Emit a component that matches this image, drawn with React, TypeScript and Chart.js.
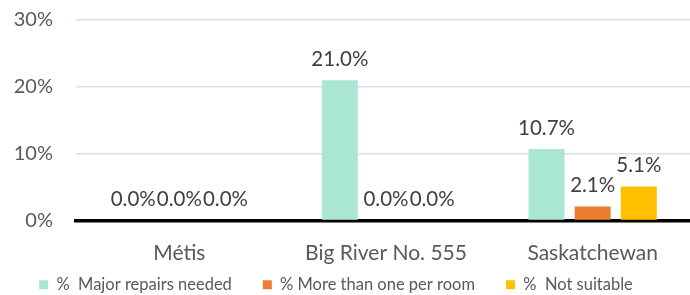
import React, { useEffect, useRef } from "react";
import { Chart, registerables } from "chart.js";

Chart.register(...registerables);

const categories = ["Métis", "Big River No. 555", "Saskatchewan"];
const seriesLabels = ["%  Major repairs needed", "% More than one per room", "%  Not suitable"];
const majorRepairs = [0.0, 21.0, 10.7];
const moreThanOnePerRoom = [0.0, 0.0, 2.1];
const notSuitable = [0.0, 0.0, 5.1];
const seriesColors = ["#A9E6D3", "#ED7D31", "#FFC000"];
const yTicks = [0, 10, 20, 30];

const FONT = "Lato, 'Open Sans', sans-serif";

const dataLabelPlugin = {
  id: "dataLabels",
  afterDatasetsDraw(chart: any) {
    const ctx = chart.ctx;
    ctx.save();
    ctx.font = `20.5px ${FONT}`;
    ctx.fillStyle = "#404040";
    ctx.textAlign = "center";
    ctx.textBaseline = "middle";
    chart.data.datasets.forEach((ds: any, di: number) => {
      const meta = chart.getDatasetMeta(di);
      meta.data.forEach((el: any, i: number) => {
        const v = ds.data[i];
        ctx.fillText(`${v.toFixed(1)}%`, el.x, el.y - 21);
      });
    });
    ctx.restore();
  },
};

const legendShift = {
  id: "legendShift",
  afterLayout(chart: any) {
    const lg = chart.legend;
    if (lg) {
      lg.left -= 12;
      lg.right -= 12;
      lg.top -= 25;
      lg.bottom -= 25;
    }
  },
};

export default function App() {
  const ref = useRef<HTMLCanvasElement | null>(null);
  useEffect(() => {
    if (!ref.current) return;
    const chart = new Chart(ref.current, {
      type: "bar",
      data: {
        labels: categories,
        datasets: [
          { label: seriesLabels[0], data: majorRepairs, backgroundColor: seriesColors[0] },
          { label: seriesLabels[1], data: moreThanOnePerRoom, backgroundColor: seriesColors[1] },
          { label: seriesLabels[2], data: notSuitable, backgroundColor: seriesColors[2] },
        ],
      },
      options: {
        animation: false,
        responsive: true,
        maintainAspectRatio: false,
        layout: { padding: { top: 20, left: 0, right: 0, bottom: -33 } },
        datasets: { bar: { categoryPercentage: 0.67, barPercentage: 0.78 } },
        plugins: {
          legend: {
            display: true,
            position: "bottom",
            labels: {
              boxWidth: 9,
              boxHeight: 9,
              padding: 31,
              color: "#595959",
              font: { family: FONT, size: 16.5 },
            },
          },
          tooltip: { enabled: false },
        },
        scales: {
          x: {
            grid: { display: false, drawTicks: false },
            border: { display: true, color: "#000000", width: 3.5 },
            ticks: { color: "#595959", font: { family: FONT, size: 21 }, padding: 20 },
            afterFit(scale: any) {
              scale.height = 50;
            },
          },
          y: {
            min: 0,
            max: 30,
            afterBuildTicks(scale: any) {
              scale.ticks = yTicks.map((v) => ({ value: v }));
            },
            grid: {
              color: "#D3E1F1",
              lineWidth: 1.5,
              drawTicks: true,
              tickLength: 20,
              tickColor: "rgba(0,0,0,0)",
            },
            border: { display: false },
            ticks: {
              color: "#595959",
              font: { family: FONT, size: 20 },
              padding: 3,
              callback: (v: any) => `${v}%`,
            },
            afterFit(scale: any) {
              scale.width = 76;
            },
          },
        },
      },
      plugins: [dataLabelPlugin, legendShift],
    });
    return () => chart.destroy();
  }, []);
  return (
    <div style={{ position: "fixed", left: 0, top: 0, width: 690, height: 295, overflow: "hidden", background: "#fff" }}>
      <div style={{ position: "relative", width: 696, height: 295 }}>
        <canvas ref={ref} />
      </div>
    </div>
  );
}
